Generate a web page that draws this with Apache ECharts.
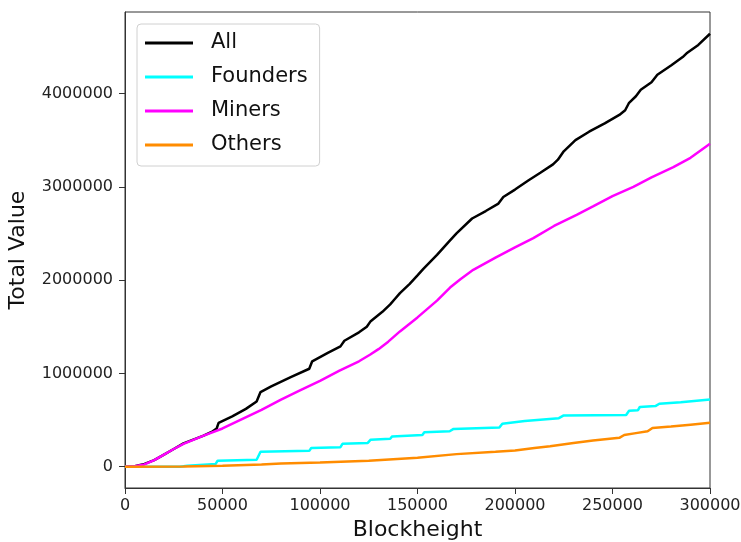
<!DOCTYPE html>
<html>
<head>
<meta charset="utf-8">
<script src="https://cdn.jsdelivr.net/npm/echarts@6/dist/echarts.min.js"></script>
<style>
  html, body { margin: 0; padding: 0; background: #fff; }
  #chart { width: 741px; height: 542px; }
</style>
</head>
<body>
<div id="chart"></div>
<script>
// Cumulative value per group against block height (values in millions)
const allHeights = [0, 5000, 10000, 15000, 20000, 25000, 30000, 35000, 40000, 45000, 47000, 48000, 55000, 62000, 67500, 69500, 75000, 85000, 94500, 96000, 104000, 110500, 112500, 120000, 124000, 126000, 132000, 136000, 138500, 141000, 146000, 150000, 153000, 160000, 166000, 170000, 178000, 185000, 191500, 194000, 200000, 207000, 213000, 219500, 222000, 225000, 231000, 238000, 246000, 253500, 256500, 258500, 262000, 264500, 270000, 273000, 280000, 286000, 288000, 294000, 300000];
const allValues = [0, 0.005, 0.03, 0.07, 0.13, 0.19, 0.25, 0.29, 0.33, 0.38, 0.41, 0.47, 0.54, 0.62, 0.70, 0.80, 0.86, 0.96, 1.05, 1.13, 1.22, 1.29, 1.35, 1.44, 1.50, 1.56, 1.66, 1.74, 1.80, 1.86, 1.96, 2.05, 2.12, 2.27, 2.41, 2.50, 2.66, 2.74, 2.82, 2.89, 2.97, 3.07, 3.15, 3.24, 3.29, 3.38, 3.50, 3.59, 3.68, 3.77, 3.82, 3.90, 3.97, 4.04, 4.12, 4.20, 4.30, 4.39, 4.43, 4.52, 4.64];

const founderHeights = [0, 28000, 32000, 46500, 47500, 67500, 69500, 94500, 95500, 110500, 111500, 124500, 126000, 136000, 137000, 152500, 153500, 166500, 168500, 192000, 193500, 205000, 222500, 225000, 257000, 258500, 263000, 264000, 272000, 274000, 285000, 300000];
const founderValues = [0, 0, 0.01, 0.03, 0.065, 0.075, 0.16, 0.17, 0.20, 0.21, 0.245, 0.255, 0.29, 0.30, 0.325, 0.34, 0.37, 0.38, 0.405, 0.42, 0.46, 0.49, 0.52, 0.55, 0.555, 0.60, 0.605, 0.64, 0.65, 0.675, 0.69, 0.72];

const minerHeights = [0, 5000, 10000, 15000, 20000, 25000, 30000, 40000, 50000, 60000, 70000, 80000, 90000, 100000, 110000, 120000, 125600, 130000, 135000, 141000, 150000, 160000, 166700, 172000, 178600, 190000, 200000, 209400, 220000, 231600, 240000, 250000, 260700, 270000, 281200, 290000, 300000];
const minerValues = [0, 0.005, 0.025, 0.07, 0.13, 0.19, 0.245, 0.33, 0.41, 0.51, 0.61, 0.72, 0.82, 0.92, 1.03, 1.13, 1.20, 1.26, 1.34, 1.45, 1.60, 1.78, 1.92, 2.01, 2.11, 2.24, 2.35, 2.45, 2.58, 2.70, 2.79, 2.90, 3.00, 3.10, 3.21, 3.31, 3.46];

const otherHeights = [0, 30000, 50000, 70000, 80000, 100000, 125000, 150000, 170000, 190000, 200000, 210000, 218000, 230000, 240000, 253500, 256000, 262000, 268000, 270500, 280000, 290000, 300000];
const otherValues = [0, 0.003, 0.01, 0.025, 0.035, 0.045, 0.065, 0.095, 0.135, 0.16, 0.175, 0.20, 0.22, 0.255, 0.28, 0.31, 0.34, 0.36, 0.38, 0.415, 0.43, 0.45, 0.47];

const xTicks = [0, 50000, 100000, 150000, 200000, 250000, 300000];
const yTicks = [0, 1000000, 2000000, 3000000, 4000000];

const toPairs = (hs, vs) => hs.map((h, i) => [h, vs[i] * 1e6]);
const plain = v => String(Math.round(v));

const FONT = 'DejaVu Sans';
const AXIS = '#333';

const chart = echarts.init(document.getElementById('chart'), null, { renderer: 'canvas' });

function lineSeries(name, color, hs, vs) {
  return {
    name: name,
    type: 'line',
    data: toPairs(hs, vs),
    showSymbol: false,
    symbol: 'none',
    lineStyle: { color: color, width: 2.5 },
    itemStyle: { color: color },
    animation: false
  };
}

chart.setOption({
  backgroundColor: '#fff',
  animation: false,
  grid: {
    left: 125, right: 31, top: 12, bottom: 54,
    containLabel: false,
    outerBoundsMode: 'none',
    show: true, borderColor: AXIS, borderWidth: 1, backgroundColor: 'transparent'
  },
  legend: {
    orient: 'vertical',
    left: 137, top: 24,
    padding: [2, 12, 4, 8],
    itemGap: 0,
    itemWidth: 48,
    itemHeight: 3,
    icon: 'rect',
    backgroundColor: '#fff',
    borderColor: '#d0d0d0',
    borderWidth: 1,
    borderRadius: 4,
    textStyle: {
      fontFamily: FONT, fontSize: 21, color: '#111',
      lineHeight: 34, padding: [0, 0, 0, 13]
    },
    data: ['All', 'Founders', 'Miners', 'Others']
  },
  xAxis: {
    type: 'value',
    min: 0, max: 300000, interval: 50000,
    name: 'Blockheight',
    nameLocation: 'middle',
    nameGap: 31,
    nameTextStyle: { fontFamily: FONT, fontSize: 22, color: '#111' },
    axisLine: { show: true, onZero: false, lineStyle: { color: AXIS, width: 1 } },
    axisTick: { show: true, inside: false, length: 6, lineStyle: { color: AXIS }, customValues: xTicks },
    axisLabel: { fontFamily: FONT, fontSize: 16, color: '#222', margin: 10, customValues: xTicks, formatter: plain, hideOverlap: false },
    splitLine: { show: false }
  },
  yAxis: {
    type: 'value',
    min: -228000, max: 4873000,
    name: 'Total Value',
    nameLocation: 'middle',
    nameGap: 96,
    nameRotate: 90,
    nameTextStyle: { fontFamily: FONT, fontSize: 22, color: '#111' },
    axisLine: { show: true, onZero: false, lineStyle: { color: AXIS, width: 1 } },
    axisTick: { show: true, inside: false, length: 6, lineStyle: { color: AXIS }, customValues: yTicks },
    axisLabel: { fontFamily: FONT, fontSize: 16, color: '#222', margin: 12, customValues: yTicks, formatter: plain },
    splitLine: { show: false }
  },
  series: [
    lineSeries('All', '#000000', allHeights, allValues),
    lineSeries('Founders', '#00ffff', founderHeights, founderValues),
    lineSeries('Miners', '#ff00ff', minerHeights, minerValues),
    lineSeries('Others', '#ff8c00', otherHeights, otherValues)
  ]
});
</script>
</body>
</html>
